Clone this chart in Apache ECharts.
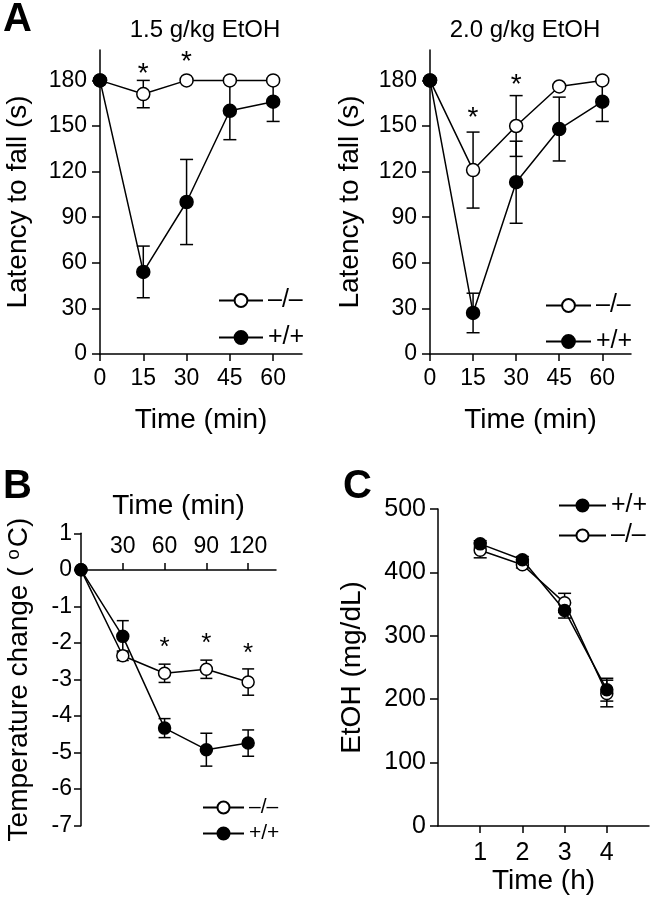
<!DOCTYPE html>
<html><head><meta charset="utf-8">
<script src="https://cdn.jsdelivr.net/npm/echarts@6/dist/echarts.min.js"></script>
<style>html,body{margin:0;padding:0;background:#fff}#c{width:650px;height:899px}</style>
</head><body><div id="c"></div>
<script>
// ---------- data ----------
const KO = '\u2013/\u2013', WT = '+/+';
const timeA = [0, 15, 30, 45, 60];
const yTicksA = [0, 30, 60, 90, 120, 150, 180];
// Panel A, 1.5 g/kg
const a15KO = [180, 171, 180, 180, 180];
const a15KOerr = [0, 9, 0, 0, 0];
const a15WT = [180, 54, 100, 160, 166];
const a15WTerr = [0, 17, 28, 19, 13];
const a15Stars = [[15, 188], [30, 196]];
// Panel A, 2.0 g/kg
const a20KO = [180, 121, 150, 176, 180];
const a20KOerr = [0, 25, 20, 0, 0];
const a20WT = [180, 27, 113, 148, 166];
const a20WTerr = [0, 13, 27, 21, 13];
const a20Stars = [[15, 159], [30, 181]];
// Panel B
const timeB = [0, 30, 60, 90, 120];
const xTicksB = [30, 60, 90, 120];
const bKO = [0, -2.35, -2.83, -2.72, -3.07];
const bKOerr = [0, 0.13, 0.25, 0.25, 0.36];
const bWT = [0, -1.82, -4.33, -4.92, -4.74];
const bWTerr = [0, 0.43, 0.26, 0.45, 0.36];
const bStars = [[60, -1.99], [90, -1.87], [120, -2.14]];
// Panel C
const timeC = [1, 2, 3, 4];
const cWT = [445, 420, 340, 215];
const cWTerr = [5, 5, 12, 18];
const cKO = [435, 412, 352, 209];
const cKOerr = [12, 5, 15, 21];

// ---------- helpers ----------
const FONT = '"Liberation Sans", Arial, Helvetica, sans-serif';
const pairs = (xs, ys) => xs.map((x, i) => [x, ys[i]]);
const errs = (xs, ys, es) => xs.map((x, i) => [x, ys[i] - es[i], ys[i] + es[i]]);

function errRender(cap) {
  return function (params, api) {
    const x = api.value(0), lo = api.value(1), hi = api.value(2);
    if (hi === lo) return null;
    const p1 = api.coord([x, hi]), p2 = api.coord([x, lo]);
    const st = { stroke: '#000', lineWidth: 1.5 };
    return { type: 'group', children: [
      { type: 'line', shape: { x1: p1[0], y1: p1[1], x2: p2[0], y2: p2[1] }, style: st },
      { type: 'line', shape: { x1: p1[0] - cap, y1: p1[1], x2: p1[0] + cap, y2: p1[1] }, style: st },
      { type: 'line', shape: { x1: p2[0] - cap, y1: p2[1], x2: p2[0] + cap, y2: p2[1] }, style: st }
    ]};
  };
}
function starRender(size) {
  return function (params, api) {
    const p = api.coord([api.value(0), api.value(1)]);
    return { type: 'text', x: p[0], y: p[1] + size * 0.22,
      style: { text: '*', fontSize: size, fontFamily: FONT, fill: '#000', align: 'center', verticalAlign: 'middle' } };
  };
}
function errSeries(idx, data, cap) {
  return { type: 'custom', xAxisIndex: idx, yAxisIndex: idx, z: 1, silent: true,
    renderItem: errRender(cap), encode: { x: 0, y: [1, 2] }, data: data, clip: false };
}
function starSeries(idx, data, size) {
  return { type: 'custom', xAxisIndex: idx, yAxisIndex: idx, z: 4, silent: true,
    renderItem: starRender(size), encode: { x: 0, y: 1 }, data: data, clip: false };
}
function lineSeries(idx, name, data, filled, size) {
  return { type: 'line', name: name, xAxisIndex: idx, yAxisIndex: idx, z: filled ? 3 : 2,
    data: data, symbol: 'circle', symbolSize: size, clip: false, silent: true,
    lineStyle: { color: '#000', width: 1.5 },
    itemStyle: { color: filled ? '#000' : '#fff', borderColor: '#000', borderWidth: 1.5 } };
}
const axLine = { show: true, onZero: false, lineStyle: { color: '#000', width: 1.5 } };
function tick(len, vals) { const t = { show: true, length: len, lineStyle: { color: '#000', width: 1.5 } }; if (vals) t.customValues = vals; return t; }
function lab(size, margin, vals) { const l = { color: '#000', fontSize: size, fontFamily: FONT, margin: margin }; if (vals) l.customValues = vals; return l; }
const nameStyle = (s) => ({ color: '#000', fontSize: s, fontFamily: FONT });

const option = {
  animation: false,
  backgroundColor: '#fff',
  title: [
    { text: 'A', left: -2, top: -5, textStyle: { fontSize: 40, fontWeight: 'bold', fontFamily: FONT, color: '#000' } },
    { text: '1.5 g/kg EtOH', left: 200, top: 13, textAlign: 'center', textStyle: { fontSize: 24, fontWeight: 'normal', fontFamily: FONT, color: '#000' } },
    { text: '2.0 g/kg EtOH', left: 520, top: 13, textAlign: 'center', textStyle: { fontSize: 24, fontWeight: 'normal', fontFamily: FONT, color: '#000' } },
    { text: 'B', left: -2, top: 462, textStyle: { fontSize: 40, fontWeight: 'bold', fontFamily: FONT, color: '#000' } },
    { text: 'C', left: 338, top: 462, textStyle: { fontSize: 40, fontWeight: 'bold', fontFamily: FONT, color: '#000' } }
  ],
  legend: [
    { orient: 'vertical', left: 213, top: 283, data: [KO, WT], itemWidth: 44, itemHeight: 16, itemGap: 12, selectedMode: false,
      textStyle: { fontSize: 25, color: '#000', fontFamily: FONT } },
    { orient: 'vertical', left: 540, top: 288, data: [KO, WT], itemWidth: 45, itemHeight: 16, itemGap: 11, selectedMode: false,
      textStyle: { fontSize: 25, color: '#000', fontFamily: FONT } },
    { orient: 'vertical', left: 197, top: 792, data: [KO, WT], itemWidth: 41, itemHeight: 15, itemGap: 5, selectedMode: false,
      textStyle: { fontSize: 21, color: '#000', fontFamily: FONT } },
    { orient: 'vertical', left: 553, top: 488, data: [WT, KO], itemWidth: 47, itemHeight: 15, itemGap: 5, selectedMode: false,
      textStyle: { fontSize: 25, color: '#000', fontFamily: FONT } }
  ],
  grid: [
    { left: 100, top: 50, width: 202, height: 304 },
    { left: 430, top: 50, width: 201, height: 304 },
    { left: 81, top: 533.3, width: 195, height: 292.4 },
    { left: 438, top: 509, width: 211, height: 317 }
  ],
  xAxis: [
    { gridIndex: 0, type: 'value', min: 0, max: 70, axisLine: axLine, axisTick: tick(7, timeA), axisLabel: lab(23, 13, timeA), splitLine: { show: false },
      name: 'Time (min)', nameLocation: 'middle', nameGap: 52, nameTextStyle: nameStyle(28) },
    { gridIndex: 1, type: 'value', min: 0, max: 70, axisLine: axLine, axisTick: tick(7, timeA), axisLabel: lab(23, 13, timeA), splitLine: { show: false },
      name: 'Time (min)', nameLocation: 'middle', nameGap: 52, nameTextStyle: nameStyle(28) },
    { gridIndex: 2, type: 'value', position: 'top', offset: -36.6, min: 0, max: 140, axisLine: axLine, axisTick: tick(7, xTicksB), axisLabel: lab(23, 12, xTicksB), splitLine: { show: false },
      name: 'Time (min)', nameLocation: 'middle', nameGap: 50, nameTextStyle: nameStyle(28) },
    { gridIndex: 3, type: 'value', min: 0, max: 5, axisLine: axLine, axisTick: tick(7, timeC), axisLabel: lab(25, 15, timeC), splitLine: { show: false },
      name: 'Time (h)', nameLocation: 'middle', nameGap: 38, nameTextStyle: nameStyle(28) }
  ],
  yAxis: [
    { gridIndex: 0, type: 'value', min: 0, max: 200, axisLine: axLine, axisTick: tick(8, yTicksA), axisLabel: lab(23, 13, yTicksA), splitLine: { show: false },
      name: 'Latency to fall (s)', nameLocation: 'middle', nameGap: 68, nameTextStyle: nameStyle(28) },
    { gridIndex: 1, type: 'value', min: 0, max: 200, axisLine: axLine, axisTick: tick(8, yTicksA), axisLabel: lab(23, 13, yTicksA), splitLine: { show: false },
      name: 'Latency to fall (s)', nameLocation: 'middle', nameGap: 66, nameTextStyle: nameStyle(28) },
    { gridIndex: 2, type: 'value', min: -7, max: 1, interval: 1, axisLine: axLine, axisTick: tick(7), axisLabel: lab(23, 9), splitLine: { show: false },
      name: '{t|Temperature change ( }{s|o}{t|C)}', nameLocation: 'middle', nameGap: 46,
      nameTextStyle: { color: '#000', fontFamily: FONT, fontSize: 28,
        rich: { t: { fontSize: 28, fontFamily: FONT, color: '#000' }, s: { fontSize: 19, fontFamily: FONT, color: '#000', verticalAlign: 'top', padding: [0, 2, 12, 0] } } } },
    { gridIndex: 3, type: 'value', min: 0, max: 500, interval: 100, axisLine: axLine, axisTick: tick(8), axisLabel: lab(25, 12), splitLine: { show: false },
      name: 'EtOH (mg/dL)', nameLocation: 'middle', nameGap: 72, nameTextStyle: nameStyle(28) }
  ],
  series: [
    errSeries(0, errs(timeA, a15KO, a15KOerr), 6.5),
    errSeries(0, errs(timeA, a15WT, a15WTerr), 6.5),
    lineSeries(0, KO, pairs(timeA, a15KO), false, 13),
    lineSeries(0, WT, pairs(timeA, a15WT), true, 13),
    starSeries(0, a15Stars, 28),

    errSeries(1, errs(timeA, a20KO, a20KOerr), 6.5),
    errSeries(1, errs(timeA, a20WT, a20WTerr), 6.5),
    lineSeries(1, KO, pairs(timeA, a20KO), false, 13),
    lineSeries(1, WT, pairs(timeA, a20WT), true, 13),
    starSeries(1, a20Stars, 28),

    errSeries(2, errs(timeB, bKO, bKOerr), 6),
    errSeries(2, errs(timeB, bWT, bWTerr), 6),
    lineSeries(2, KO, pairs(timeB, bKO), false, 12),
    lineSeries(2, WT, pairs(timeB, bWT), true, 12),
    starSeries(2, bStars, 26),

    errSeries(3, errs(timeC, cKO, cKOerr), 6.5),
    errSeries(3, errs(timeC, cWT, cWTerr), 6.5),
    lineSeries(3, KO, pairs(timeC, cKO), false, 12),
    lineSeries(3, WT, pairs(timeC, cWT), true, 12)
  ]
};
const chart = echarts.init(document.getElementById('c'), null, { renderer: 'canvas' });
chart.setOption(option);
</script></body></html>
